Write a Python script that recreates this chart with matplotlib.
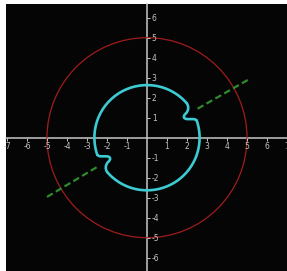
import matplotlib
matplotlib.use('Agg')
import matplotlib.pyplot as plt
from matplotlib.patches import Arc, Circle, PathPatch
from matplotlib.path import Path
from matplotlib.ticker import FixedLocator

plt.rcParams['axes.unicode_minus'] = False

# values
outer_r = 5.0
inner_r = 2.63
# arcs of the inner curve (degrees)
arc_spans = [(41, 199), (221, 379)]
# right notch: start, bezier controls, end
notch_right = [(1.99, 1.72), (2.09, 1.58), (2.10, 1.36), (1.93, 1.20),
               (1.78, 1.06), (1.82, 0.93), (2.05, 0.93),
               (2.30, 0.93),
               (2.40, 0.93), (2.44, 0.90), (2.487, 0.856)]
notch_left = [(-1.99, -1.72), (-2.09, -1.58), (-2.10, -1.36), (-1.93, -1.20),
              (-1.78, -1.06), (-1.82, -0.93), (-2.05, -0.93),
              (-2.30, -0.93),
              (-2.40, -0.93), (-2.44, -0.90), (-2.487, -0.856)]
notch_codes = [Path.MOVETO, Path.CURVE4, Path.CURVE4, Path.CURVE4,
               Path.CURVE4, Path.CURVE4, Path.CURVE4,
               Path.LINETO,
               Path.CURVE4, Path.CURVE4, Path.CURVE4]
dash_x1 = [2.53, 5.15]
dash_y1 = [1.45, 2.95]
dash_x2 = [-2.52, -5.15]
dash_y2 = [-1.48, -3.05]
xticks = [-7, -6, -5, -4, -3, -2, -1, 1, 2, 3, 4, 5, 6, 7]
yticks = [-6, -5, -4, -3, -2, -1, 1, 2, 3, 4, 5, 6]

cyan = '#3ccbd2'
fig = plt.figure(figsize=(2.87, 2.71), dpi=100, facecolor='white')
ax = fig.add_axes([6/287, 0, 281/287, 267/271])
ax.set_facecolor('#050505')
ax.set_xlim(-7.05, 7.0)
ax.set_ylim(-6.665, 6.685)
ax.set_aspect('equal')

ax.add_patch(Circle((0, 0), outer_r, fill=False, color='#a01c1c', lw=0.9))
for t1, t2 in arc_spans:
    ax.add_patch(Arc((0, 0), 2*inner_r, 2*inner_r, theta1=t1, theta2=t2,
                     color=cyan, lw=1.9, capstyle='round'))
for pts in (notch_right, notch_left):
    ax.add_patch(PathPatch(Path(pts, notch_codes), fill=False, ec=cyan,
                           lw=1.9, capstyle='round', joinstyle='round'))

ax.plot(dash_x1, dash_y1, color='#2e8b2e', lw=1.6, dashes=(3, 1.6))
ax.plot(dash_x2, dash_y2, color='#2e8b2e', lw=1.6, dashes=(3, 1.6))

for s in ('left', 'top'):
    ax.spines[s].set_visible(False)
ax.spines['bottom'].set_position('zero')
ax.spines['right'].set_position('zero')
for s in ('bottom', 'right'):
    ax.spines[s].set_color('#c8c8c8')
    ax.spines[s].set_linewidth(1.1)
    ax.spines[s].set_zorder(0.5)
ax.yaxis.tick_right()
ax.xaxis.set_major_locator(FixedLocator(xticks))
ax.yaxis.set_major_locator(FixedLocator(yticks))
ax.tick_params(colors='#c4c4c4', labelsize=5.5, length=2.2, width=0.7, pad=1.2)

fig.savefig('out.png', dpi=100)
